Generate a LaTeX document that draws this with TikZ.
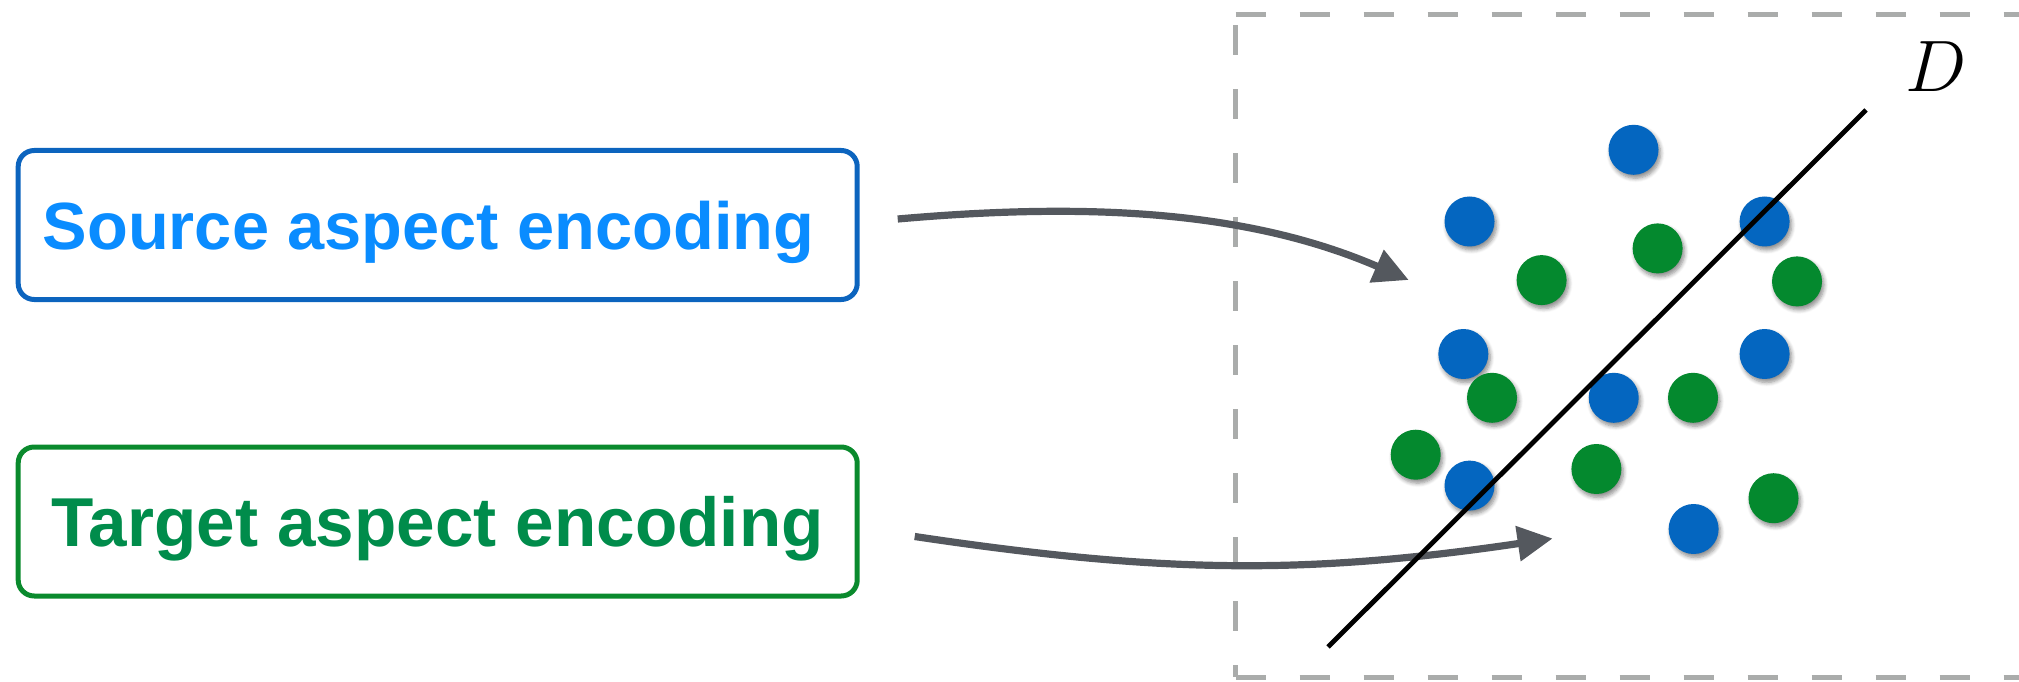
\documentclass[tikz,border=0pt]{standalone}
\usepackage{fontspec}
\newfontfamily\labelfont{Liberation Sans}
\usetikzlibrary{arrows.meta,shadows.blur}

\definecolor{srcline}{RGB}{12,100,190}
\definecolor{srctext}{RGB}{10,140,255}
\definecolor{tgtline}{RGB}{10,138,45}
\definecolor{tgttext}{RGB}{0,140,75}
\definecolor{dotblue}{RGB}{4,102,192}
\definecolor{dotgreen}{RGB}{4,137,46}
\definecolor{flowgray}{RGB}{84,88,94}
\definecolor{framegray}{RGB}{170,172,171}

\begin{document}
\begin{tikzpicture}[
  encbox/.style={draw, line width=0.05cm, rounded corners=0.16cm,
    minimum width=8.39cm, minimum height=1.49cm, inner sep=0pt, text depth=0pt},
  dotb/.style={circle, minimum size=0.5cm, inner sep=0pt, fill=dotblue,
    blur shadow={shadow xshift=0.02cm, shadow yshift=-0.035cm, shadow opacity=45,
      shadow blur steps=6, shadow blur radius=0.04cm}},
  dotg/.style={dotb, fill=dotgreen},
  flow/.style={draw=flowgray, line width=0.072cm, -{Triangle[length=0.35cm,width=0.34cm]}},
  frame/.style={draw=framegray, line width=0.05cm, dash pattern=on 0.3cm off 0.34cm}
]
\clip (0,0) rectangle (20.19,6.81);

% encodings
\node[encbox, draw=srcline, text=srctext, font=\labelfont\bfseries\fontsize{19}{23}\selectfont]
  (src) at (4.377,4.56) {\hspace*{-0.18cm}Source aspect encoding};
\node[encbox, draw=tgtline, text=tgttext, font=\labelfont\bfseries\fontsize{19.7}{23}\selectfont]
  (tgt) at (4.377,1.595) {Target aspect encoding};

% space (open on the right)
\path[frame] (12.355,6.667) -- (20.6,6.667);
\path[frame, dash phase=0.53cm] (12.355,6.667) -- (12.355,0.04);
\path[frame] (12.355,0.04) -- (20.6,0.04);

% points
\node[dotb] (b1) at (16.335,5.312) {};
\node[dotb] (b2) at (14.695,4.595) {};
\node[dotb] (b3) at (17.646,4.595) {};
\node[dotb] (b4) at (14.633,3.27) {};
\node[dotb] (b5) at (17.646,3.27) {};
\node[dotb] (b6) at (16.137,2.832) {};
\node[dotb] (b7) at (14.695,1.954) {};
\node[dotb] (b8) at (16.936,1.52) {};

\node[dotg] (g1) at (16.576,4.326) {};
\node[dotg] (g2) at (15.416,4.009) {};
\node[dotg] (g3) at (17.97,3.996) {};
\node[dotg] (g4) at (14.92,2.832) {};
\node[dotg] (g5) at (16.93,2.832) {};
\node[dotg] (g6) at (14.157,2.263) {};
\node[dotg] (g7) at (15.964,2.12) {};
\node[dotg] (g8) at (17.735,1.828) {};

% mapping arrows
\coordinate (s0) at ([xshift=0.38cm,yshift=0.06cm]src.east);
\coordinate (s1) at (14.087,4.01);
\coordinate (t0) at ([xshift=0.55cm,yshift=-0.15cm]tgt.east);
\coordinate (t1) at (15.526,1.425);
\path[flow] (s0) to[out=5, in=156.6, looseness=0.9] (s1);
\path[flow] (t0) to[out=-8.5, in=188.4] (t1);

% line D
\coordinate (d0) at (13.28,0.34);
\coordinate (d1) at (18.66,5.71);
\path[draw, line width=0.048cm, -] (d0) -- (d1);
\node[font=\fontsize{20}{24}\selectfont] (dlab) at (19.365,6.14) {$D$};
\end{tikzpicture}
\end{document}
